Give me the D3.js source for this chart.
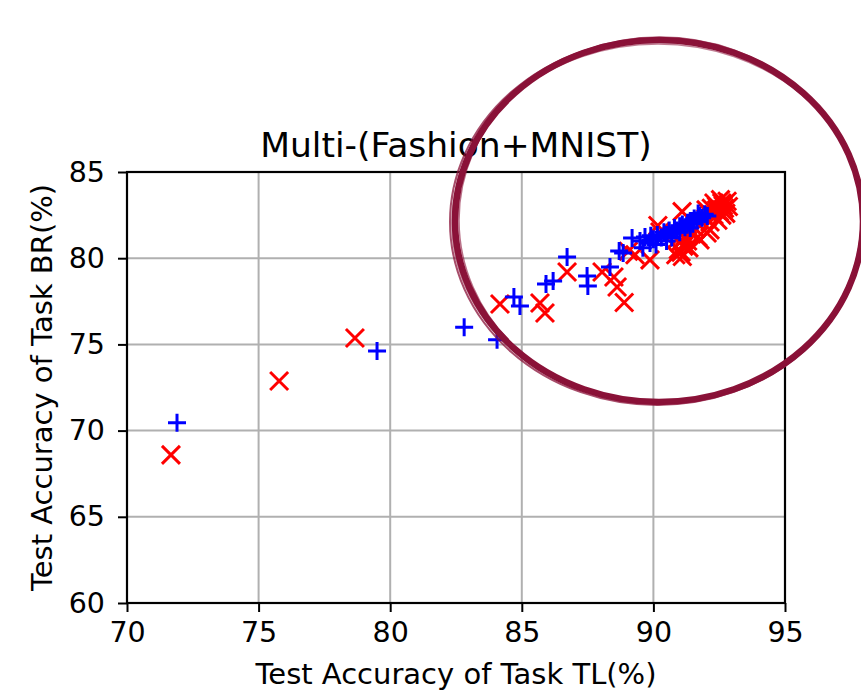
<!DOCTYPE html>
<html>
<head>
<meta charset="utf-8">
<script src="https://cdn.jsdelivr.net/npm/d3@7/dist/d3.min.js"></script>
<style>
  html, body { margin: 0; padding: 0; background: #fff; }
  svg { display: block; }
  text { font-family: "DejaVu Sans", sans-serif; fill: #000; }
</style>
</head>
<body>
<svg id="chart" width="861" height="691"></svg>
<script>
// ---- data ----
const chartTitle = "Multi-(Fashion+MNIST)";
const xLabel = "Test Accuracy of Task TL(%)";
const yLabel = "Test Accuracy of Task BR(%)";
const xTicks = [70, 75, 80, 85, 90, 95];
const yTicks = [60, 65, 70, 75, 80, 85];

// red "x" series (TL accuracy, BR accuracy)
const redX = [71.67, 75.78, 78.66, 84.17, 85.69, 85.88, 86.72, 88.05, 88.50, 88.62, 88.89, 89.30, 89.87, 89.05, 90.17, 91.09, 90.25,
  90.85, 90.95, 91.05, 91.00, 91.15, 91.30, 90.90, 91.20, 91.10, 91.35, 91.45, 91.60, 91.77, 92.04, 92.15, 91.69,
  92.00, 92.10, 92.20, 92.30, 92.40, 92.50, 92.60, 92.70, 92.80, 92.45, 92.60, 92.30, 92.75, 92.15, 92.55, 92.85, 92.00, 92.40, 92.65];
const redY = [68.59, 72.88, 75.37, 77.34, 77.40, 76.82, 79.20, 79.20, 78.91, 78.33, 77.43, 80.20, 79.90, 80.40, 81.90, 82.70, 81.52,
  80.20, 80.50, 80.35, 80.90, 80.70, 81.00, 81.10, 81.30, 80.10, 80.60, 81.40, 81.70, 81.06, 81.46, 81.64, 81.23,
  82.30, 82.60, 82.90, 82.50, 83.00, 82.70, 83.20, 82.90, 83.30, 82.20, 82.50, 83.20, 82.60, 82.10, 83.40, 83.00, 82.80, 82.80, 83.05];

// blue "+" series
const blueX = [71.90, 79.50, 82.81, 84.06, 84.70, 84.93, 85.92, 86.19, 86.72, 87.48, 87.51, 88.35, 88.70, 88.85, 89.19, 89.49, 89.68, 89.87, 89.90,
  90.00, 90.15, 90.30, 90.40, 90.50, 90.60, 90.70, 90.80, 90.90, 91.00, 91.10, 91.20, 91.30, 91.40, 91.50, 91.55, 91.65, 91.75, 91.85, 91.95, 91.70, 92.05,
  91.40, 91.00, 90.50, 89.60, 90.10, 90.70];
const blueY = [70.45, 74.62, 76.00, 75.27, 77.75, 77.23, 78.50, 78.68, 80.07, 78.97, 78.39, 79.49, 80.42, 80.30, 81.17, 81.00, 81.23, 80.88, 81.30,
  81.10, 81.35, 81.20, 81.50, 81.35, 81.60, 81.45, 81.75, 81.60, 81.85, 81.95, 81.80, 82.05, 82.15, 82.00, 82.30, 82.20, 82.45, 82.35, 82.55, 82.60, 82.45,
  81.75, 81.50, 81.00, 80.60, 80.80, 81.20];

// ---- layout ----
const svg = d3.select("#chart");
const margin = { left: 127, top: 172, right: 76, bottom: 88 };
const W = 861 - margin.left - margin.right;
const H = 691 - margin.top - margin.bottom;

const x = d3.scaleLinear().domain([70, 95]).range([0, W]);
const y = d3.scaleLinear().domain([60, 85]).range([H, 0]);

const g = svg.append("g").attr("transform", `translate(${margin.left},${margin.top})`);

// grid
g.append("g").selectAll("line").data(xTicks).join("line")
  .attr("x1", d => x(d)).attr("x2", d => x(d)).attr("y1", 0).attr("y2", H)
  .attr("stroke", "#b0b0b0").attr("stroke-width", 2);
g.append("g").selectAll("line").data(yTicks).join("line")
  .attr("y1", d => y(d)).attr("y2", d => y(d)).attr("x1", 0).attr("x2", W)
  .attr("stroke", "#b0b0b0").attr("stroke-width", 2);

// axes
const xAxis = g.append("g").attr("transform", `translate(0,${H})`)
  .call(d3.axisBottom(x).tickValues(xTicks).tickSize(9).tickPadding(10).tickSizeOuter(0));
const yAxis = g.append("g")
  .call(d3.axisLeft(y).tickValues(yTicks).tickSize(9).tickPadding(13).tickSizeOuter(0));
[xAxis, yAxis].forEach(a => {
  a.select(".domain").remove();
  a.selectAll("line").attr("stroke", "#000").attr("stroke-width", 2);
  a.selectAll("text").attr("font-size", 28.5).attr("font-family", "DejaVu Sans").attr("fill", "#000");
});

// frame
g.append("rect").attr("x", 0).attr("y", 0).attr("width", W).attr("height", H)
  .attr("fill", "none").attr("stroke", "#000").attr("stroke-width", 2.2);

// markers
const ms = 9;
const redData = redX.map((v, i) => [v, redY[i]]);
const blueData = blueX.map((v, i) => [v, blueY[i]]);

g.append("g").selectAll("path").data(redData).join("path")
  .attr("d", d => {
    const cx = x(d[0]), cy = y(d[1]);
    return `M${cx - ms},${cy - ms}L${cx + ms},${cy + ms}M${cx - ms},${cy + ms}L${cx + ms},${cy - ms}`;
  })
  .attr("stroke", "#ff0000").attr("stroke-width", 3).attr("fill", "none");

g.append("g").selectAll("path").data(blueData).join("path")
  .attr("d", d => {
    const cx = x(d[0]), cy = y(d[1]);
    return `M${cx - ms},${cy}L${cx + ms},${cy}M${cx},${cy - ms}L${cx},${cy + ms}`;
  })
  .attr("stroke", "#0000ff").attr("stroke-width", 3).attr("fill", "none");

// title and labels
svg.append("text").attr("x", margin.left + W / 2).attr("y", 157)
  .attr("text-anchor", "middle").attr("font-size", 34.5).text(chartTitle);
svg.append("text").attr("x", margin.left + W / 2).attr("y", 684)
  .attr("text-anchor", "middle").attr("font-size", 29).text(xLabel);
svg.append("text").attr("transform", `translate(52,${margin.top + H / 2}) rotate(-90)`)
  .attr("text-anchor", "middle").attr("font-size", 29).text(yLabel);

// hand-drawn circle annotation
const circ = svg.append("g").attr("fill", "none").attr("stroke", "#8a1238");
const ecx = 659, ecy = 221, erx = 204, ery = 181;
const strokes = [
  { dx: 0, dy: 0, rx: 0, ry: 0, w: 6.5, o: 1 },
  { dx: -2, dy: 1, rx: 3, ry: 2, w: 2, o: 0.75 },
  { dx: 1, dy: -1, rx: -3, ry: 2, w: 1.5, o: 0.6 },
  { dx: -1, dy: 2, rx: 2, ry: -2, w: 1.5, o: 0.55 }
];
strokes.forEach(s => {
  circ.append("ellipse")
    .attr("cx", ecx + s.dx).attr("cy", ecy + s.dy)
    .attr("rx", erx + s.rx).attr("ry", ery + s.ry)
    .attr("stroke-width", s.w).attr("opacity", s.o);
});
</script>
</body>
</html>
